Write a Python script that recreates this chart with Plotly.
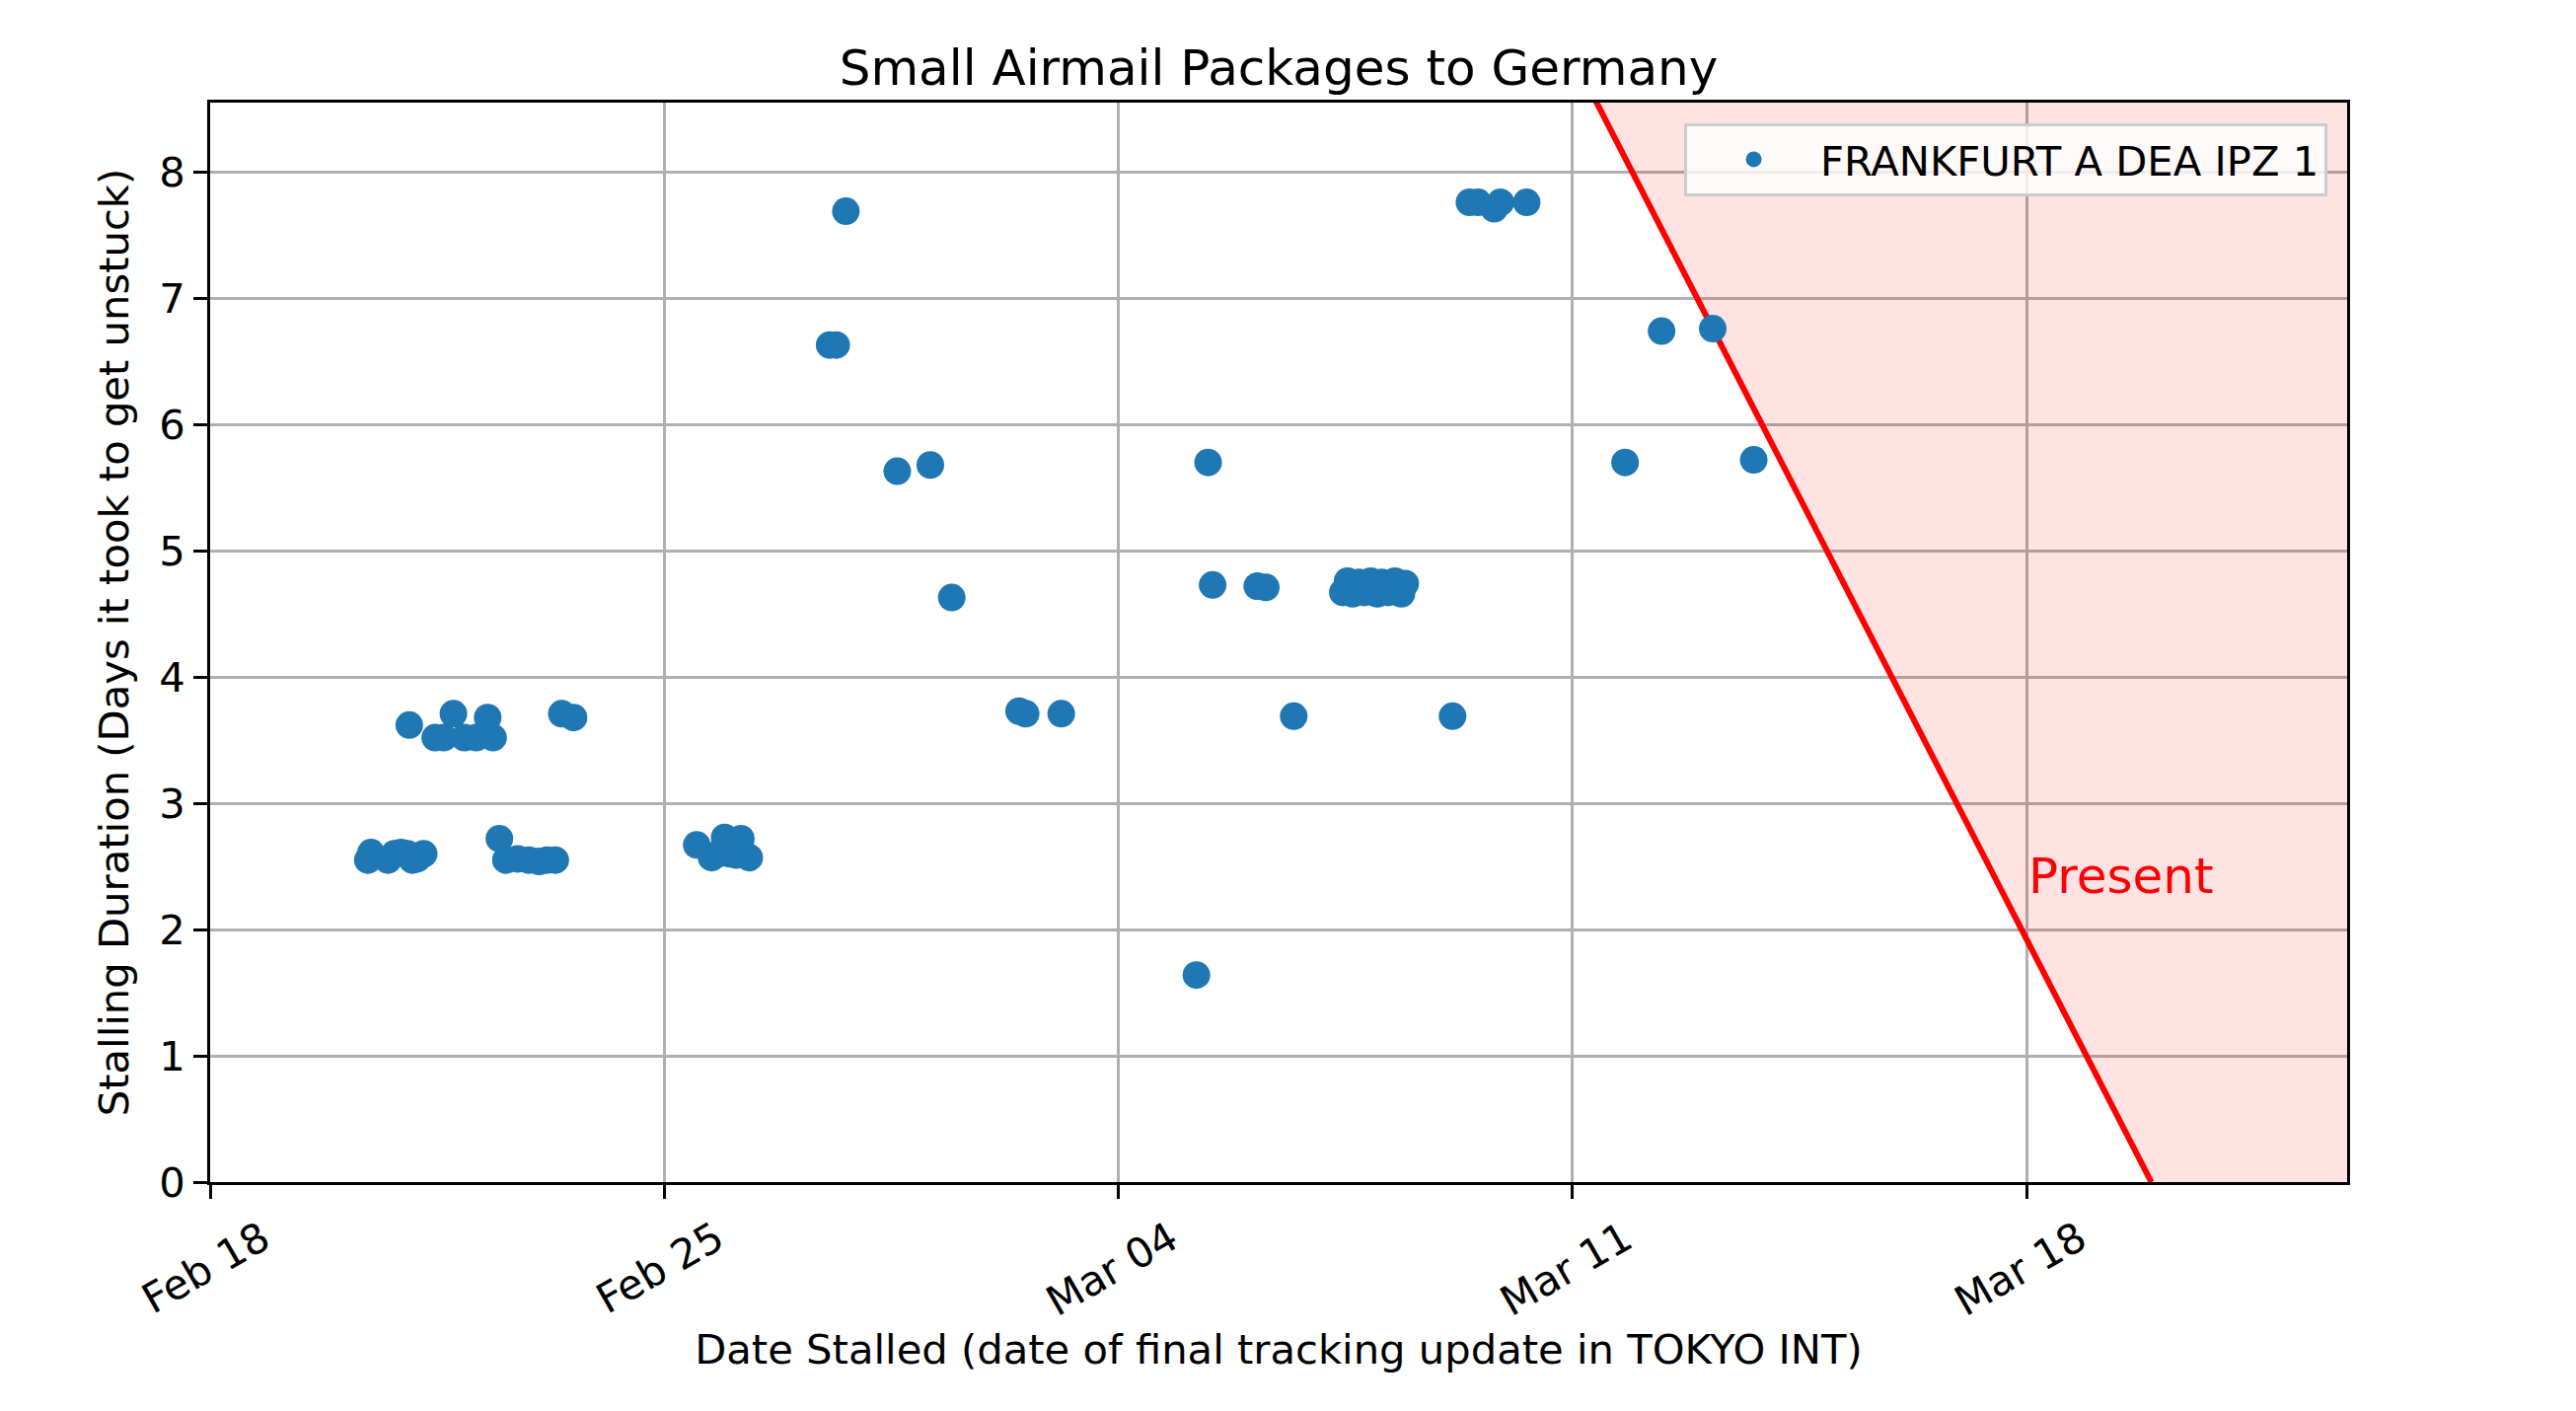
import pandas as pd
import plotly.graph_objects as go

# stall date (last TOKYO INT update) and days until it moved again
stall_dates = [
    "2023-02-20 10:20", "2023-02-20 11:30", "2023-02-20 17:45", "2023-02-20 20:10",
    "2023-02-20 22:35", "2023-02-21 01:00", "2023-02-21 02:50", "2023-02-21 04:35",
    "2023-02-21 07:00", "2023-02-21 01:40", "2023-02-21 11:15", "2023-02-21 14:25",
    "2023-02-21 18:00", "2023-02-21 22:05", "2023-02-22 02:25", "2023-02-22 06:40",
    "2023-02-22 08:40", "2023-02-22 11:00", "2023-02-22 13:25", "2023-02-22 17:45",
    "2023-02-22 21:50", "2023-02-23 01:40", "2023-02-23 04:35", "2023-02-23 07:40",
    "2023-02-23 10:05", "2023-02-23 14:25",
    "2023-02-25 12:00", "2023-02-25 17:30", "2023-02-25 19:55", "2023-02-25 22:20",
    "2023-02-26 00:15", "2023-02-26 02:40", "2023-02-26 04:20", "2023-02-26 05:30",
    "2023-02-26 07:25",
    "2023-02-27 13:10", "2023-02-27 15:35", "2023-02-27 19:10", "2023-02-28 14:10",
    "2023-03-01 02:25", "2023-03-01 10:20", "2023-03-02 11:15", "2023-03-02 13:40",
    "2023-03-03 02:50", "2023-03-05 04:50", "2023-03-05 09:10", "2023-03-05 10:50",
    "2023-03-06 03:20", "2023-03-06 06:30", "2023-03-06 16:50",
    "2023-03-07 11:00", "2023-03-07 12:45", "2023-03-07 14:40", "2023-03-07 17:00",
    "2023-03-07 19:00", "2023-03-07 21:20", "2023-03-07 23:45", "2023-03-08 01:25",
    "2023-03-08 03:50", "2023-03-08 06:15", "2023-03-08 08:40", "2023-03-08 10:05",
    "2023-03-09 03:35", "2023-03-09 09:50", "2023-03-09 13:00", "2023-03-09 19:00",
    "2023-03-09 21:20", "2023-03-10 07:00", "2023-03-11 19:25", "2023-03-12 08:55",
    "2023-03-13 03:50", "2023-03-13 19:00",
]
stall_days = [
    2.55, 2.61, 2.55, 2.60, 2.61, 2.60, 2.55, 2.56, 2.60, 3.62, 3.52, 3.52,
    3.71, 3.52, 3.52, 3.68, 3.52, 2.72, 2.55, 2.56, 2.55, 2.54, 2.55, 2.55,
    3.71, 3.68,
    2.67, 2.57, 2.60, 2.73, 2.60, 2.59, 2.72, 2.60, 2.57,
    6.63, 6.63, 7.69, 5.63, 5.68, 4.63, 3.73, 3.71, 3.71, 1.64, 5.70, 4.73,
    4.72, 4.71, 3.69,
    4.67, 4.76, 4.66, 4.75, 4.67, 4.76, 4.66, 4.75, 4.67, 4.76, 4.66, 4.74,
    3.69, 7.76, 7.76, 7.71, 7.76, 7.76, 5.70, 6.74, 6.76, 5.72,
]

present = pd.Timestamp("2023-03-19 22:05")
x_start = pd.Timestamp("2023-02-18")
x_end = pd.Timestamp("2023-03-22 22:30")
y_max = 8.55

# anything stalled less than (present - date) days ago can't be resolved yet
line_days = [0, 10]
line_dates = [present - pd.Timedelta(days=d) for d in line_days]

fig = go.Figure()

# shaded "not yet observable" region
fig.add_trace(go.Scatter(
    x=line_dates + [x_end, x_end],
    y=line_days + [line_days[1], line_days[0]],
    fill="toself",
    fillcolor="rgba(255,0,0,0.11)",
    line=dict(width=0),
    mode="lines",
    hoverinfo="skip",
    showlegend=False,
))

fig.add_trace(go.Scatter(
    x=line_dates,
    y=line_days,
    mode="lines",
    line=dict(color="red", width=6),
    showlegend=False,
))

fig.add_trace(go.Scatter(
    x=pd.to_datetime(stall_dates),
    y=stall_days,
    mode="markers",
    name="FRANKFURT A DEA IPZ 1",
    marker=dict(color="#1f77b4", size=28, line=dict(width=0)),
))

fig.add_annotation(
    x=pd.Timestamp("2023-03-18"), y=2.42,
    text="Present", showarrow=False,
    xanchor="left", yanchor="middle",
    font=dict(color="red", size=50),
)

FS = 41.7

axis_common = dict(
    showline=True, linecolor="black", linewidth=3, mirror=True,
    ticks="outside", ticklen=14, tickwidth=3, tickcolor="black",
    showgrid=True, gridcolor="#b0b0b0", gridwidth=3,
    tickfont=dict(size=FS, color="black"),
    zeroline=False,
)

fig.update_xaxes(
    **axis_common,
    type="date",
    range=[x_start, x_end],
    tick0="2023-02-18", dtick=7 * 86400000,
    tickformat="%b %d", tickangle=-30, ticklabelshift=53,
    title=dict(text="Date Stalled (date of final tracking update in TOKYO INT)",
               font=dict(size=FS, color="black"), standoff=1),
)
fig.update_yaxes(
    **axis_common,
    range=[0, y_max], dtick=1,
    title=dict(text="Stalling Duration (Days it took to get unstuck)",
               font=dict(size=FS, color="black"), standoff=18),
)

# the page body adds an 8px offset, so margins are shifted to compensate
fig.update_layout(
    width=2611, height=1430,
    margin=dict(l=205, r=240, t=96, b=240),
    paper_bgcolor="white", plot_bgcolor="white",
    font=dict(family="DejaVu Sans", color="black"),
    title=dict(text="Small Airmail Packages to Germany", font=dict(size=50),
               x=0.5, xref="paper", xanchor="center",
               y=1, yref="paper", yanchor="bottom", pad=dict(b=18)),
    legend=dict(x=0.9908, xanchor="right", y=0.981, yanchor="top",
                bgcolor="rgba(255,255,255,0.8)", bordercolor="#cccccc",
                borderwidth=3, font=dict(size=FS), itemwidth=125),
    showlegend=True,
)

fig.write_html("out.html")
